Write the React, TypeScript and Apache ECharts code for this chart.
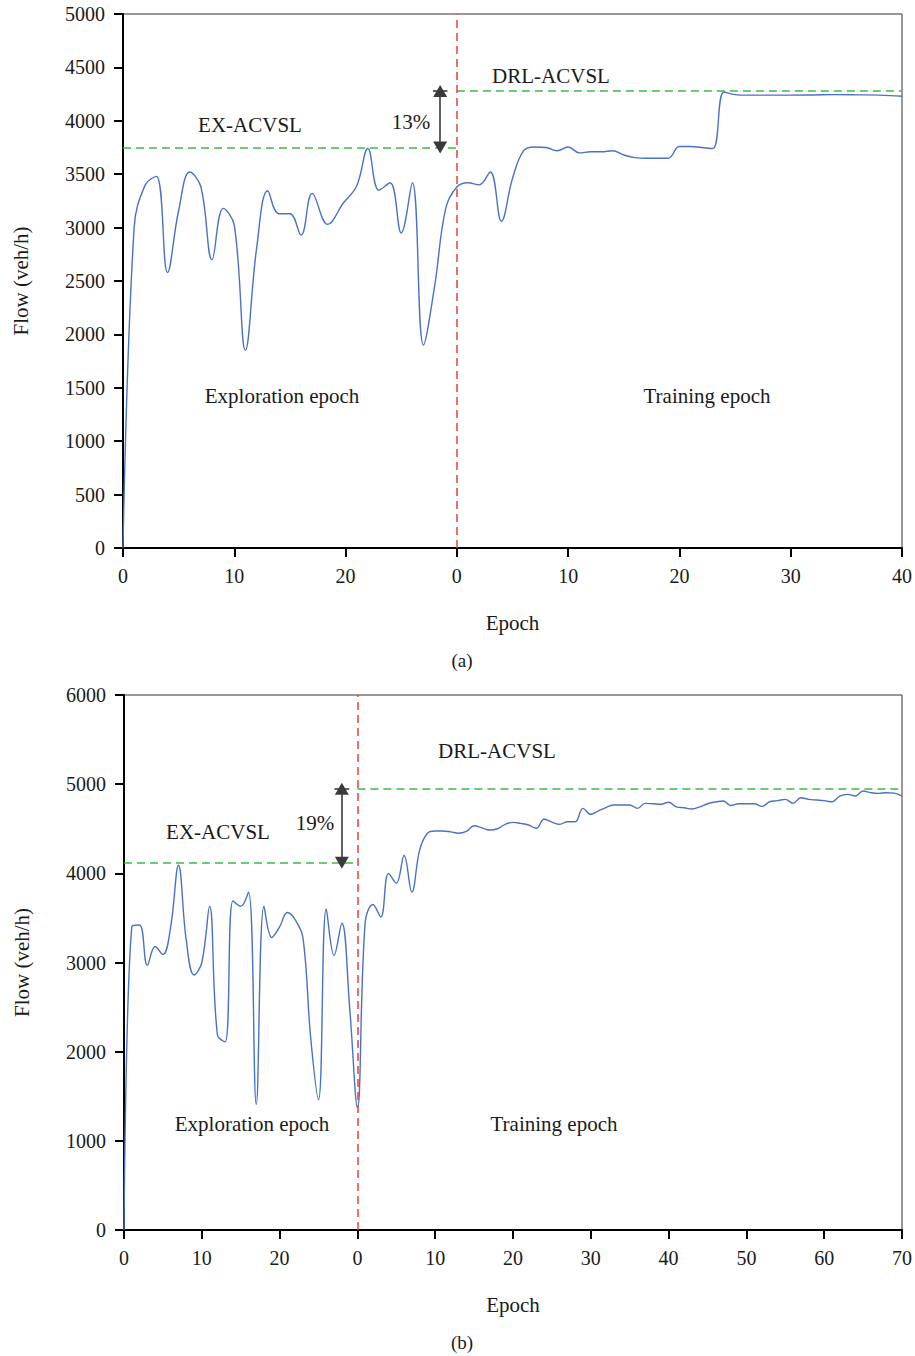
import React, { useEffect, useRef } from "react";
import * as echarts from "echarts";

// ---------- Panel (a) data ----------
const A_EXPLORE_LEN = 30;
const aExploreEpoch = [0, 1, 2, 3, 4, 5, 6, 7, 8, 9, 10, 11, 12, 13, 14, 15, 16, 17, 18.4, 19.8, 21, 22, 23, 24, 25, 26, 27, 28, 29];
const aExploreFlow = [0, 3000, 3400, 3480, 2580, 3160, 3520, 3380, 2700, 3180, 3020, 1850, 2800, 3345, 3130, 3130, 2930, 3320, 3030, 3230, 3390, 3740, 3350, 3420, 2950, 3420, 1900, 2450, 3180];
const aTrainEpoch = [0, 1, 2, 3, 4, 5, 6, 7, 8, 9, 10, 11, 12, 13, 14, 15, 16, 17, 18, 19, 20, 21, 22, 23, 24, 25, 26, 28, 30, 32, 34, 36, 38, 40];
const aTrainFlow = [3380, 3420, 3400, 3520, 3060, 3460, 3720, 3755, 3750, 3720, 3755, 3700, 3710, 3710, 3720, 3680, 3655, 3650, 3650, 3650, 3760, 3760, 3750, 3740, 4270, 4245, 4240, 4240, 4240, 4242, 4245, 4243, 4240, 4230];
const aExLevel = 3750;
const aDrlLevel = 4280;
const aArrowEpoch = 28.5;
const aXTickLabels = ["0", "10", "20", "0", "10", "20", "30", "40"];
const aXMax = 70;
const aYMax = 5000;
const aYStep = 500;

// ---------- Panel (b) data ----------
const B_EXPLORE_LEN = 30;
const bExploreEpoch = [0, 1, 2, 3, 4, 5, 6, 7, 8, 9, 10, 11, 12, 13, 14, 15, 16, 17, 18, 19, 20, 21, 22, 23, 24, 25, 26, 27, 28, 29];
const bExploreFlow = [0, 3400, 3420, 2970, 3180, 3090, 3400, 4090, 3250, 2860, 3000, 3630, 2190, 2110, 3690, 3630, 3790, 1410, 3630, 3280, 3400, 3560, 3480, 3280, 2150, 1460, 3600, 3080, 3440, 2500];
const bTrainEpoch = [0, 1, 2, 3, 4, 5, 6, 7, 8, 9, 10, 11, 12, 13, 14, 15, 16, 17, 18, 19, 20, 21, 22, 23, 24, 25, 26, 27, 28, 29, 30, 31, 32, 33, 34, 35, 36, 37, 38, 39, 40, 41, 42, 43, 44, 45, 46, 47, 48, 49, 50, 51, 52, 53, 54, 55, 56, 57, 58, 59, 60, 61, 62, 63, 64, 65, 66, 67, 68, 69, 70];
const bTrainFlow = [1370, 3450, 3650, 3510, 4000, 3890, 4200, 3790, 4260, 4450, 4475, 4475, 4465, 4450, 4470, 4534, 4510, 4486, 4500, 4550, 4572, 4560, 4542, 4505, 4606, 4575, 4550, 4579, 4579, 4729, 4662, 4700, 4740, 4766, 4766, 4766, 4729, 4785, 4780, 4774, 4797, 4745, 4735, 4722, 4745, 4780, 4800, 4811, 4760, 4780, 4781, 4781, 4751, 4803, 4815, 4830, 4785, 4848, 4830, 4822, 4815, 4803, 4867, 4886, 4867, 4923, 4905, 4897, 4904, 4900, 4867];
const bExLevel = 4120;
const bDrlLevel = 4950;
const bArrowEpoch = 28;
const bXTickLabels = ["0", "10", "20", "0", "10", "20", "30", "40", "50", "60", "70"];
const bXMax = 100;
const bYMax = 6000;
const bYStep = 1000;

const FONT = "'Liberation Serif', 'Times New Roman', serif";
const TXT = "#1a1a1a";
const BLUE = "#4a72c4";
const RED = "#ec4c43";
const GREEN = "#3dba48";
const ARROW = "#3a3a3a";

function buildSeriesData(eE: number[], eF: number[], tE: number[], tF: number[], off: number) {
  const out: number[][] = [];
  eE.forEach((e, i) => out.push([e, eF[i]]));
  tE.forEach((t, i) => out.push([t + off, tF[i]]));
  return out;
}

function axisPair(gridIndex: number, xMax: number, labels: string[], yMax: number, yStep: number) {
  const x = {
    type: "value",
    gridIndex,
    min: 0,
    max: xMax,
    interval: 10,
    name: "Epoch",
    nameLocation: "middle",
    nameGap: 64,
    nameTextStyle: { fontFamily: FONT, fontSize: 21, color: TXT },
    axisLine: { show: true, onZero: false, lineStyle: { color: "#000", width: 2 } },
    axisTick: { show: true, length: 9, lineStyle: { color: "#000", width: 2 } },
    axisLabel: {
      margin: 18,
      fontFamily: FONT,
      fontSize: 20,
      color: TXT,
      showMinLabel: true,
      showMaxLabel: true,
      formatter: (_v: number, idx: number) => labels[idx] ?? "",
    },
    splitLine: { show: false },
  };
  const y = {
    type: "value",
    gridIndex,
    min: 0,
    max: yMax,
    interval: yStep,
    name: "Flow (veh/h)",
    nameLocation: "middle",
    nameGap: 92,
    nameRotate: 90,
    nameTextStyle: { fontFamily: FONT, fontSize: 21, color: TXT },
    axisLine: { show: true, lineStyle: { color: "#000", width: 2 } },
    axisTick: { show: true, length: 9, lineStyle: { color: "#000", width: 2 } },
    axisLabel: {
      margin: 18,
      fontFamily: FONT,
      fontSize: 20,
      color: TXT,
      showMinLabel: true,
      showMaxLabel: true,
      formatter: (v: number) => String(Math.round(v)),
    },
    splitLine: { show: false },
  };
  return { x, y };
}

function markLines(exLen: number, xMax: number, yMax: number, exLevel: number, drlLevel: number, arrowX: number, capHalf: number) {
  const dashG = { color: GREEN, width: 1.6, type: [8, 5] };
  const dashR = { color: RED, width: 1.6, type: [8, 5] };
  const arr = { color: ARROW, width: 1.6, type: "solid" };
  return {
    silent: true,
    animation: false,
    symbol: "none",
    label: { show: false },
    emphasis: { disabled: true },
    data: [
      [{ coord: [0, exLevel], lineStyle: dashG, symbol: "none" }, { coord: [exLen, exLevel], symbol: "none" }],
      [{ coord: [exLen, drlLevel], lineStyle: dashG, symbol: "none" }, { coord: [xMax, drlLevel], symbol: "none" }],
      [{ coord: [exLen, 0], lineStyle: dashR, symbol: "none" }, { coord: [exLen, yMax], symbol: "none" }],
      [
        { coord: [arrowX, drlLevel], lineStyle: arr, symbol: "triangle", symbolSize: [14, 12] },
        { coord: [arrowX, exLevel], symbol: "triangle", symbolSize: [14, 12] },
      ],
      [{ coord: [arrowX - capHalf, drlLevel], lineStyle: arr, symbol: "none" }, { coord: [arrowX + capHalf, drlLevel], symbol: "none" }],
    ],
  };
}

function txt(text: string, x: number, y: number, size = 21) {
  return {
    type: "text",
    x,
    y,
    silent: true,
    style: { text, fill: TXT, font: `${size}px ${FONT}`, align: "center", verticalAlign: "middle" },
  };
}

export default function App() {
  const ref = useRef<HTMLDivElement>(null);
  useEffect(() => {
    if (!ref.current) return;
    const chart = echarts.init(ref.current, undefined, { renderer: "svg" });
    const a = axisPair(0, aXMax, aXTickLabels, aYMax, aYStep);
    const b = axisPair(1, bXMax, bXTickLabels, bYMax, bYStep);
    const lineBase = {
      type: "line",
      smooth: 0.4,
      showSymbol: false,
      symbol: "none",
      lineStyle: { color: BLUE, width: 1.4 },
      itemStyle: { color: BLUE },
      z: 3,
    };
    chart.setOption({
      animation: false,
      backgroundColor: "#fff",
      grid: [
        { left: 123, top: 14, width: 779, height: 534, show: true, borderColor: "#333", borderWidth: 1, backgroundColor: "transparent" },
        { left: 124, top: 695, width: 778, height: 535, show: true, borderColor: "#333", borderWidth: 1, backgroundColor: "transparent" },
      ],
      xAxis: [a.x, b.x],
      yAxis: [a.y, b.y],
      series: [
        {
          ...lineBase,
          xAxisIndex: 0,
          yAxisIndex: 0,
          data: buildSeriesData(aExploreEpoch, aExploreFlow, aTrainEpoch, aTrainFlow, A_EXPLORE_LEN),
          markLine: markLines(A_EXPLORE_LEN, aXMax, aYMax, aExLevel, aDrlLevel, aArrowEpoch, 0.65),
        },
        {
          ...lineBase,
          xAxisIndex: 1,
          yAxisIndex: 1,
          data: buildSeriesData(bExploreEpoch, bExploreFlow, bTrainEpoch, bTrainFlow, B_EXPLORE_LEN),
          markLine: markLines(B_EXPLORE_LEN, bXMax, bYMax, bExLevel, bDrlLevel, bArrowEpoch, 0.95),
        },
      ],
      graphic: [
        txt("EX-ACVSL", 250, 125),
        txt("DRL-ACVSL", 551, 76),
        txt("13%", 411, 122),
        txt("Exploration epoch", 282, 396),
        txt("Training epoch", 707, 396),
        txt("(a)", 462, 660, 19),
        txt("EX-ACVSL", 218, 832),
        txt("DRL-ACVSL", 497, 751),
        txt("19%", 315, 823),
        txt("Exploration epoch", 252, 1124),
        txt("Training epoch", 554, 1124),
        txt("(b)", 462, 1342, 19),
      ],
    });
    return () => chart.dispose();
  }, []);
  return <div ref={ref} style={{ position: "absolute", left: 0, top: 0, width: 915, height: 1356 }} />;
}
